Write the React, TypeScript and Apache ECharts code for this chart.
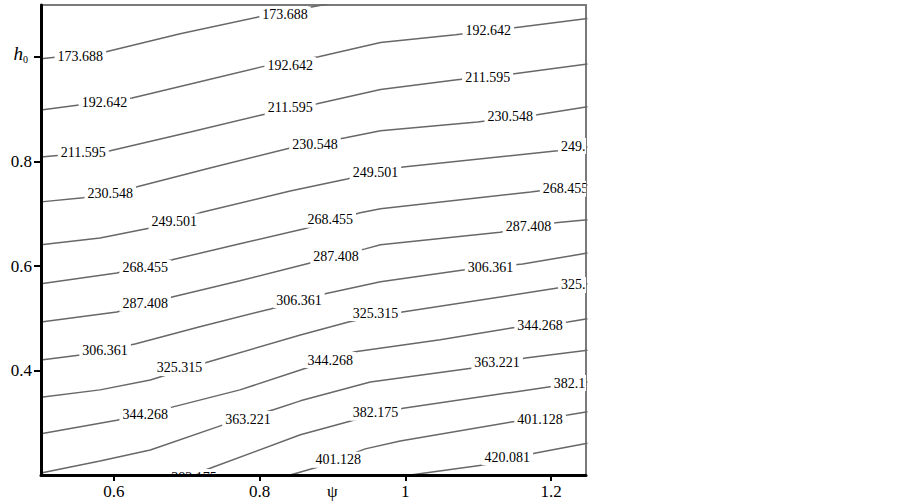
import React, { useEffect, useRef } from "react";
import * as echarts from "echarts";

// Contour levels (labels drawn on the lines)
const levels: string[] = [
  "173.688", "192.642", "211.595", "230.548", "249.501", "268.455", "287.408",
  "306.361", "325.315", "344.268", "363.221", "382.175", "401.128", "420.081",
];

// Contour lines as [psi, h0] points
const line173688: number[][] = [[0.5, 0.997], [0.588, 1.01], [0.691, 1.045], [0.798, 1.077], [0.886, 1.1], [0.955, 1.12], [1.25, 1.167]];
const line192642: number[][] = [[0.5, 0.899], [0.625, 0.922], [0.718, 0.953], [0.804, 0.982], [0.881, 1.001], [0.966, 1.028], [1.069, 1.043], [1.158, 1.058], [1.25, 1.074]];
const line211595: number[][] = [[0.5, 0.809], [0.595, 0.821], [0.705, 0.857], [0.804, 0.89], [0.879, 0.911], [0.966, 0.938], [1.071, 0.957], [1.147, 0.968], [1.25, 0.987]];
const line230548: number[][] = [[0.5, 0.723], [0.558, 0.731], [0.632, 0.752], [0.732, 0.788], [0.842, 0.826], [0.918, 0.846], [0.966, 0.859], [1.099, 0.876], [1.181, 0.89], [1.25, 0.905]];
const line249501: number[][] = [[0.5, 0.641], [0.581, 0.654], [0.65, 0.673], [0.718, 0.702], [0.842, 0.744], [0.92, 0.767], [0.955, 0.779], [0.997, 0.79], [1.209, 0.821], [1.25, 0.828]];
const line268455: number[][] = [[0.5, 0.566], [0.604, 0.587], [0.68, 0.612], [0.773, 0.643], [0.86, 0.671], [0.938, 0.702], [0.966, 0.71], [1.172, 0.742], [1.25, 0.756]];
const line287408: number[][] = [[0.5, 0.493], [0.604, 0.512], [0.68, 0.541], [0.773, 0.572], [0.864, 0.604], [0.945, 0.633], [0.966, 0.641], [1.13, 0.665], [1.206, 0.683], [1.25, 0.689]];
const line306361: number[][] = [[0.5, 0.42], [0.554, 0.43], [0.629, 0.451], [0.718, 0.484], [0.815, 0.518], [0.89, 0.547], [0.966, 0.57], [1.082, 0.593], [1.161, 0.604], [1.25, 0.625]];
const line325315: number[][] = [[0.5, 0.349], [0.581, 0.363], [0.65, 0.382], [0.728, 0.416], [0.856, 0.468], [0.922, 0.493], [0.959, 0.504], [0.996, 0.512], [1.209, 0.558], [1.25, 0.566]];
const line344268: number[][] = [[0.5, 0.279], [0.604, 0.305], [0.68, 0.33], [0.773, 0.363], [0.856, 0.401], [0.931, 0.436], [1.048, 0.459], [1.148, 0.482], [1.223, 0.493], [1.25, 0.499]];
const line363221: number[][] = [[0.5, 0.204], [0.581, 0.227], [0.65, 0.248], [0.75, 0.296], [0.821, 0.326], [0.856, 0.342], [0.952, 0.378], [1.093, 0.405], [1.165, 0.424], [1.25, 0.439]];
const line382175: number[][] = [[0.677, 0.185], [0.732, 0.213], [0.856, 0.277], [0.929, 0.305], [0.997, 0.328], [1.199, 0.369], [1.25, 0.378]];
const line401128: number[][] = [[0.815, 0.187], [0.842, 0.2], [0.879, 0.215], [0.945, 0.25], [0.993, 0.265], [1.148, 0.302], [1.223, 0.315], [1.25, 0.321]];
const line420081: number[][] = [[0.979, 0.188], [1.007, 0.2], [1.107, 0.219], [1.179, 0.242], [1.25, 0.261]];

// Where each level's inline labels sit, [psi, h0]
const labels173688: number[][] = [[0.554, 1.001], [0.835, 1.081]];
const labels192642: number[][] = [[0.587, 0.913], [0.842, 0.985], [1.114, 1.051]];
const labels211595: number[][] = [[0.558, 0.817], [0.842, 0.903], [1.113, 0.962]];
const labels230548: number[][] = [[0.595, 0.74], [0.876, 0.832], [1.144, 0.886]];
const labels249501: number[][] = [[0.683, 0.685], [0.959, 0.779], [1.245, 0.83]];
const labels268455: number[][] = [[0.643, 0.597], [0.897, 0.689], [1.22, 0.748]];
const labels287408: number[][] = [[0.643, 0.528], [0.905, 0.618], [1.169, 0.675]];
const labels306361: number[][] = [[0.588, 0.439], [0.854, 0.535], [1.117, 0.598]];
const labels325315: number[][] = [[0.69, 0.405], [0.959, 0.51], [1.245, 0.564]];
const labels344268: number[][] = [[0.643, 0.315], [0.897, 0.42], [1.185, 0.487]];
const labels363221: number[][] = [[0.784, 0.307], [1.126, 0.415]];
const labels382175: number[][] = [[0.71, 0.196], [0.959, 0.319], [1.235, 0.376]];
const labels401128: number[][] = [[0.908, 0.229], [1.185, 0.307]];
const labels420081: number[][] = [[1.14, 0.234]];

const contourLines = [line173688, line192642, line211595, line230548, line249501, line268455, line287408,
  line306361, line325315, line344268, line363221, line382175, line401128, line420081];
const contourLabels = [labels173688, labels192642, labels211595, labels230548, labels249501, labels268455, labels287408,
  labels306361, labels325315, labels344268, labels363221, labels382175, labels401128, labels420081];

// Axis ticks and labels
const xTicks: number[] = [0.6, 0.8, 1, 1.2];
const xLabelValues: number[] = [0.6, 0.8, 0.9, 1, 1.2];
const xNameValue = 0.9; // "ψ"
const yTicks: number[] = [0.4, 0.6, 0.8, 1];
const yNameValue = 1; // "h0"

const FONT = '"Liberation Serif", "Times New Roman", serif';

export default function App() {
  const ref = useRef<HTMLDivElement>(null);
  useEffect(() => {
    if (!ref.current) return;
    const chart = echarts.init(ref.current, undefined, { renderer: "svg" });

    const labelPoints: number[][] = [];
    const labelTexts: string[] = [];
    contourLabels.forEach((pts, i) => {
      pts.forEach((p) => {
        labelPoints.push(p);
        labelTexts.push(levels[i]);
      });
    });

    const lineSeries = contourLines.map((data, i) => ({
      type: "line",
      name: levels[i],
      data,
      symbol: "none",
      smooth: false,
      silent: true,
      clip: true,
      z: 2,
      lineStyle: { color: "#686868", width: 1.5 },
    }));

    chart.setOption({
      animation: false,
      grid: {
        left: 41,
        top: 5,
        right: 316,
        bottom: 29,
        show: true,
        borderColor: "#7a7a7a",
        borderWidth: 2,
        backgroundColor: "transparent",
      },
      xAxis: {
        type: "value",
        min: 0.5,
        max: 1.248,
        z: 10,
        axisLine: { show: true, onZero: false, lineStyle: { color: "#000", width: 3 } },
        axisTick: {
          show: true,
          inside: false,
          length: 6,
          customValues: xTicks,
          lineStyle: { color: "#000", width: 2 },
        },
        axisLabel: {
          customValues: xLabelValues,
          formatter: (v: number) => (Math.abs(v - xNameValue) < 1e-9 ? "ψ" : String(v)),
          color: "#000",
          fontFamily: FONT,
          fontSize: 17,
          margin: 8,
        },
        splitLine: { show: false },
      },
      yAxis: {
        type: "value",
        min: 0.2,
        max: 1.1,
        z: 10,
        axisLine: { show: true, onZero: false, lineStyle: { color: "#000", width: 3 } },
        axisTick: {
          show: true,
          inside: false,
          length: 7,
          customValues: yTicks,
          lineStyle: { color: "#000", width: 2 },
        },
        axisLabel: {
          customValues: yTicks,
          formatter: (v: number) => (Math.abs(v - yNameValue) < 1e-9 ? "{h|h}{s|0}" : String(v)),
          color: "#000",
          fontFamily: FONT,
          fontSize: 17,
          margin: 9,
          rich: {
            h: { fontFamily: FONT, fontStyle: "italic", fontSize: 19, color: "#000", lineHeight: 22, padding: [0, 0, 8, 0] },
            s: { fontFamily: FONT, fontSize: 10, color: "#000", lineHeight: 10, verticalAlign: "bottom", padding: [0, 4, 4, 0] },
          },
        },
        splitLine: { show: false },
      },
      series: [
        ...lineSeries,
        {
          type: "custom",
          name: "labels",
          data: labelPoints,
          clip: true,
          silent: true,
          z: 3,
          encode: { x: 0, y: 1 },
          renderItem: (params: any, api: any) => {
            const p = api.coord([api.value(0), api.value(1)]);
            return {
              type: "text",
              x: p[0],
              y: p[1],
              style: {
                text: labelTexts[params.dataIndex],
                font: `14px ${FONT}`,
                fill: "#000",
                align: "center",
                verticalAlign: "middle",
                backgroundColor: "#fff",
                padding: [1, 3],
              },
            };
          },
        },
      ],
    } as any);

    return () => chart.dispose();
  }, []);

  return (
    <div
      ref={ref}
      style={{ position: "absolute", left: 0, top: 0, width: 902, height: 504, background: "#fff" }}
    />
  );
}
